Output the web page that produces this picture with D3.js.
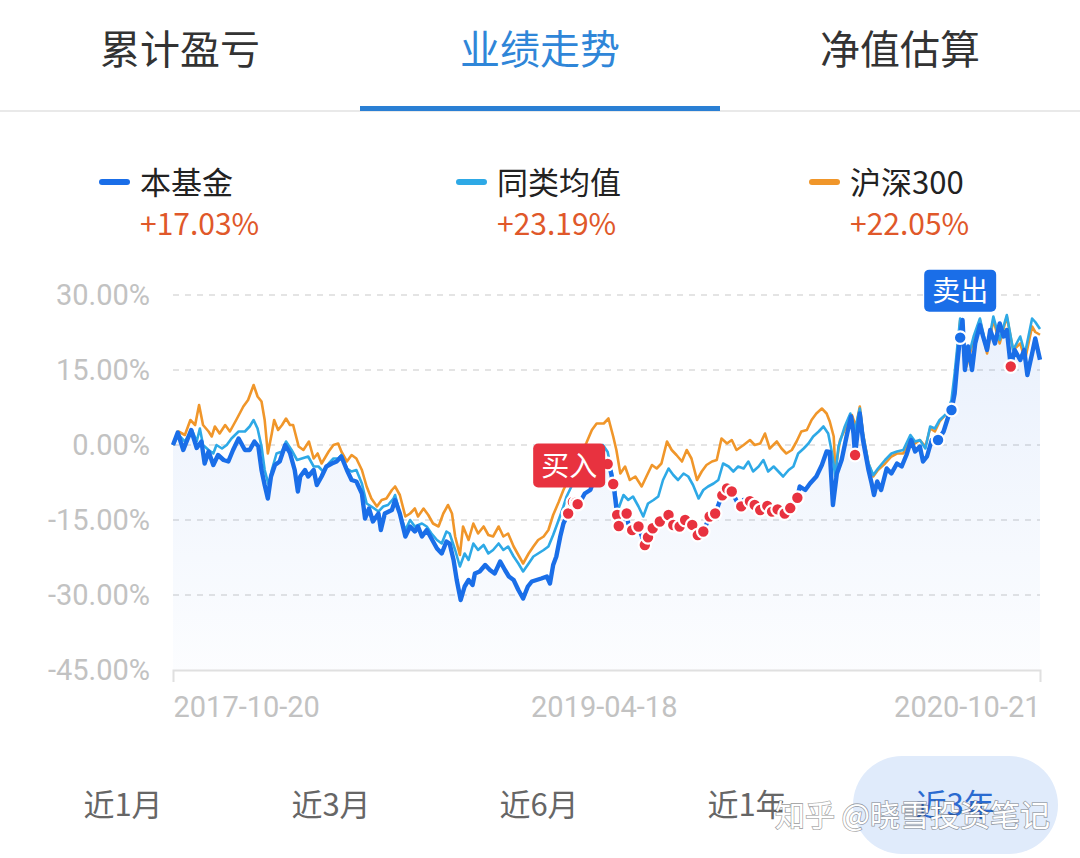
<!DOCTYPE html>
<html>
<head>
<meta charset="utf-8">
<script src="https://cdn.jsdelivr.net/npm/d3@7"></script>
<style>
  html, body { margin: 0; padding: 0; background: #fff; }
  svg { display: block; font-family: "Noto Sans CJK SC", "Noto Sans", sans-serif; }
</style>
</head>
<body>
<div id="chart"></div>
<script>
// tabs / legend / range buttons
const tabs = ["累计盈亏", "业绩走势", "净值估算"];
const seriesNames = ["本基金", "同类均值", "沪深300"];
const seriesReturns = ["+17.03%", "+23.19%", "+22.05%"];
const rangeButtons = ["近1月", "近3月", "近6月", "近1年", "近3年"];

// x = days since 2017-10-20, y = cumulative return %
const dateTicks = [0, 545, 1097];
const dateLabels = ["2017-10-20", "2019-04-18", "2020-10-21"];
const yTicks = [30, 15, 0, -15, -30, -45];

const fundData = [[0,0],[6,2.5],[13,-1.0],[23,3.0],[30,-0.6],[36,0.7],[40,-3.7],[45,-1.3],[51,-4.0],[57,-2.0],[64,-3.0],[70,-3.3],[76,-1.0],[83,1.3],[91,-1.0],[97,-1.0],[103,0.7],[108,-0.3],[112,-5.0],[116,-8.0],[120,-10.7],[124,-6.3],[129,-4.0],[135,-3.3],[142,0.0],[148,-1.6],[154,-5.0],[158,-9.3],[161,-6.3],[167,-5.0],[171,-6.3],[178,-5.0],[182,-8.0],[188,-6.3],[194,-4.3],[201,-3.7],[207,-3.3],[213,-2.3],[220,-5.0],[226,-7.0],[232,-7.3],[239,-9.7],[243,-14.7],[248,-12.7],[253,-15.3],[260,-13.7],[263,-17.0],[268,-13.7],[277,-13.0],[281,-11.0],[287,-13.7],[294,-18.3],[300,-16.3],[306,-17.3],[310,-16.3],[315,-18.3],[321,-17.0],[327,-18.7],[334,-20.7],[340,-21.7],[346,-19.3],[350,-19.7],[355,-23.0],[359,-27.0],[364,-31.0],[369,-28.3],[374,-27.0],[379,-28.0],[382,-25.7],[388,-25.3],[395,-24.0],[401,-25.0],[407,-25.7],[414,-23.3],[420,-25.0],[425,-26.3],[431,-27.0],[437,-29.0],[443,-30.7],[449,-28.3],[454,-27.3],[460,-27.0],[466,-26.7],[473,-26.3],[477,-27.7],[481,-24.0],[485,-22.3],[490,-18.3],[494,-15.7],[500,-13.7],[507,-11.0],[513,-12.0],[521,-9.7],[528,-9.0],[535,-6.0],[543,-4.0],[549,-3.4],[554,-5.4],[558,-8.6],[562,-14.0],[564,-16.2],[574,-13.7],[576,-15.7],[582,-17.3],[589,-16.3],[597,-20.0],[604,-17.3],[610,-16.0],[616,-15.3],[627,-14.0],[633,-16.0],[641,-16.3],[648,-15.0],[656,-15.7],[665,-18.3],[671,-17.3],[679,-14.3],[686,-13.7],[694,-10.3],[701,-8.7],[707,-9.3],[718,-12.7],[722,-11.0],[728,-11.0],[736,-12.0],[745,-13.3],[751,-12.0],[760,-13.7],[766,-12.7],[774,-13.7],[783,-12.3],[789,-11.3],[793,-8.3],[800,-9.0],[806,-7.7],[814,-6.3],[821,-4.0],[827,-1.3],[831,-1.4],[835,-12.0],[840,-5.7],[846,-3.0],[853,2.3],[858,5.7],[861,2.3],[863,-2.0],[867,3.7],[869,6.3],[873,1.0],[880,-5.0],[884,-7.7],[887,-10.0],[891,-7.3],[896,-9.0],[903,-4.7],[909,-5.7],[916,-3.7],[922,-4.3],[928,-2.0],[934,1.0],[939,-1.3],[945,-0.3],[949,-3.3],[954,-2.3],[960,1.0],[968,1.0],[975,2.7],[981,5.7],[985,7.0],[989,10.3],[992,15.7],[995,20.3],[999,25.0],[1002,15.0],[1006,19.7],[1011,15.0],[1015,20.3],[1021,24.0],[1025,21.7],[1030,19.0],[1034,23.0],[1040,20.3],[1046,24.3],[1051,21.7],[1055,23.0],[1060,15.7],[1065,19.0],[1072,17.0],[1077,19.0],[1081,14.0],[1087,18.3],[1091,21.3],[1097,17.03]];

const peerData = [[0,0],[7,2.0],[15,0.7],[24,3.0],[30,0.7],[34,3.3],[38,0.0],[45,-1.0],[51,-1.7],[55,0.0],[62,-0.7],[68,0.0],[74,1.3],[83,2.7],[91,2.7],[97,3.7],[102,5.0],[107,3.3],[112,-0.3],[116,-5.0],[121,-8.0],[125,-5.0],[131,-1.7],[138,-1.3],[143,0.7],[150,-1.0],[157,-3.0],[163,-2.7],[171,-2.3],[178,-4.3],[184,-4.3],[190,-5.3],[197,-3.7],[203,-2.7],[209,-2.7],[213,-2.0],[220,-4.7],[226,-5.3],[232,-5.0],[239,-7.7],[245,-11.7],[251,-12.3],[260,-13.3],[266,-12.3],[272,-12.0],[279,-10.7],[281,-10.0],[287,-13.6],[294,-17.0],[300,-15.0],[306,-16.3],[315,-15.7],[321,-16.3],[327,-17.7],[334,-19.0],[340,-19.7],[346,-17.3],[350,-17.7],[357,-21.0],[363,-24.3],[369,-21.7],[374,-23.0],[380,-19.7],[386,-21.0],[393,-20.0],[399,-21.7],[405,-21.0],[412,-19.7],[418,-21.0],[424,-20.3],[431,-22.3],[437,-23.7],[443,-25.3],[450,-23.7],[456,-22.3],[462,-21.7],[469,-21.0],[475,-20.3],[481,-18.0],[488,-15.0],[494,-12.3],[498,-10.3],[505,-8.0],[515,-5.0],[525,-2.0],[535,-0.4],[544,0.0],[550,-1.4],[555,-5.3],[559,-9.0],[563,-13.0],[570,-10.0],[576,-11.0],[582,-10.3],[589,-12.3],[595,-14.3],[601,-11.7],[608,-11.0],[614,-10.3],[620,-7.0],[627,-4.7],[633,-6.0],[639,-7.0],[646,-5.7],[652,-6.3],[658,-8.0],[665,-10.7],[671,-9.0],[677,-8.3],[684,-7.7],[690,-7.0],[696,-3.7],[703,-4.3],[709,-5.3],[715,-4.3],[722,-4.7],[728,-3.3],[734,-5.3],[741,-4.3],[747,-3.0],[753,-5.3],[760,-4.3],[766,-5.3],[772,-6.3],[779,-5.0],[785,-4.3],[791,-1.7],[798,-0.7],[804,0.3],[810,1.7],[817,2.7],[823,3.7],[829,2.3],[834,-1.7],[838,-6.3],[842,-0.3],[850,3.7],[857,6.3],[863,3.0],[869,7.3],[873,2.3],[880,-3.7],[886,-6.0],[892,-4.7],[901,-3.0],[909,-1.7],[916,-1.3],[924,-1.0],[933,2.0],[939,0.7],[945,1.0],[952,-0.7],[958,3.7],[964,3.3],[970,5.0],[979,6.3],[985,9.0],[989,14.3],[996,25.3],[1004,16.3],[1013,21.7],[1021,25.3],[1030,19.0],[1038,25.7],[1046,21.0],[1055,26.0],[1063,19.0],[1072,21.7],[1078,18.3],[1087,25.3],[1091,24.6],[1097,23.19]];

const hs300Data = [[0,0],[7,2.7],[15,2.0],[22,5.0],[28,4.0],[33,8.0],[38,4.0],[45,2.7],[49,1.7],[53,3.7],[59,2.3],[66,4.0],[72,2.7],[81,5.3],[89,7.7],[95,9.0],[102,12.0],[107,9.7],[112,8.7],[116,5.0],[120,-1.7],[125,2.3],[128,5.0],[133,3.0],[138,4.0],[143,5.3],[148,4.0],[152,4.0],[159,-0.3],[165,-1.0],[172,0.7],[178,-2.7],[183,-1.7],[188,-3.7],[197,-1.3],[203,0.0],[209,0.3],[213,-1.3],[220,-3.3],[226,-2.0],[232,-2.7],[239,-5.0],[245,-8.3],[251,-10.7],[258,-12.3],[264,-11.0],[270,-10.7],[277,-9.0],[281,-8.3],[287,-10.0],[294,-14.3],[300,-13.7],[306,-12.7],[310,-14.3],[317,-12.7],[323,-14.0],[329,-15.7],[336,-16.3],[342,-13.7],[348,-12.0],[353,-13.7],[357,-18.3],[363,-22.0],[367,-16.3],[374,-19.0],[380,-15.7],[386,-17.7],[393,-16.3],[399,-18.0],[405,-18.3],[412,-16.3],[418,-18.3],[424,-17.7],[431,-20.3],[437,-22.0],[443,-23.7],[450,-21.7],[456,-20.3],[462,-19.0],[469,-18.3],[475,-17.0],[481,-14.0],[488,-11.4],[494,-9.0],[498,-7.7],[505,-5.0],[515,-2.0],[523,0.4],[530,3.0],[536,4.3],[545,4.3],[551,5.3],[557,1.7],[561,-1.0],[566,-5.7],[572,-4.3],[578,-7.0],[585,-6.3],[593,-8.3],[599,-6.3],[606,-4.0],[612,-4.7],[618,-3.7],[625,0.7],[631,-1.0],[637,-2.0],[644,-3.3],[650,-1.0],[656,-2.7],[663,-7.0],[669,-5.3],[675,-4.0],[682,-3.3],[688,-3.0],[694,1.3],[701,0.3],[707,1.0],[713,-1.0],[722,0.0],[730,1.0],[736,0.0],[743,0.3],[749,2.3],[755,-0.7],[764,0.7],[770,-0.7],[776,-1.7],[783,-1.0],[789,0.7],[795,2.7],[802,3.0],[808,5.0],[814,6.3],[821,7.3],[827,6.3],[831,4.7],[836,1.7],[838,-5.0],[844,1.0],[852,3.7],[859,6.0],[864,3.7],[869,7.7],[873,2.3],[880,-3.7],[886,-6.3],[892,-5.0],[901,-3.7],[909,-2.3],[916,-1.7],[924,-1.7],[933,1.7],[939,0.3],[945,1.0],[952,-0.3],[958,3.3],[964,2.7],[970,4.7],[979,6.3],[985,7.7],[989,13.0],[996,25.0],[1004,15.7],[1013,21.0],[1021,25.0],[1030,18.3],[1038,25.0],[1046,20.3],[1055,25.7],[1063,19.0],[1072,20.3],[1078,17.0],[1087,23.7],[1091,22.6],[1097,22.05]];

// trade markers (days)
const buyDays = [500,506,510,512,550,557,562,564,574,581,589,597,601,607,616,627,633,641,648,657,664,671,679,686,695,701,707,719,730,736,743,752,758,765,774,781,790,863,1060];
const sellDays = [968,985,996];

const colors = { fund: "#1a6ee8", peer: "#2ea9e6", hs300: "#f0962a" };

const W = 1080, H = 858;
const svg = d3.select("#chart").append("svg")
  .attr("width", W).attr("height", H);

// ---- tabs
svg.append("line")
  .attr("x1", 0).attr("x2", W).attr("y1", 111).attr("y2", 111)
  .attr("stroke", "#e2e2e2").attr("stroke-width", 1.5);

const tabX = d3.scalePoint().domain(tabs).range([180, 900]);
svg.append("g").selectAll("text")
  .data(tabs)
  .join("text")
  .attr("x", d => tabX(d))
  .attr("y", 64)
  .attr("text-anchor", "middle")
  .attr("font-size", 40)
  .attr("fill", (d, i) => i === 1 ? "#2f86d8" : "#333")
  .text(d => d);

svg.append("rect")
  .attr("x", 360).attr("y", 106).attr("width", 360).attr("height", 5)
  .attr("fill", "#2a7fd4");

// ---- legend
const legendX = [100, 457, 810];
const legendColors = [colors.fund, colors.peer, colors.hs300];
const lg = svg.append("g").selectAll("g")
  .data(seriesNames)
  .join("g")
  .attr("transform", (d, i) => `translate(${legendX[i]},0)`);
lg.append("line")
  .attr("x1", 2).attr("x2", 27).attr("y1", 182).attr("y2", 182)
  .attr("stroke", (d, i) => legendColors[i])
  .attr("stroke-width", 6).attr("stroke-linecap", "round");
lg.append("text")
  .attr("x", 40).attr("y", 194)
  .attr("font-size", 31).attr("fill", "#222")
  .text(d => d);
lg.append("text")
  .attr("x", 40).attr("y", 235)
  .attr("font-size", 30).attr("fill", "#e0582a")
  .text((d, i) => seriesReturns[i]);

// ---- chart
const x = d3.scaleLinear().domain([0, 1097]).range([173, 1040]);
const y = d3.scaleLinear().domain([-45, 30]).range([670, 295]);

const defs = svg.append("defs");
const grad = defs.append("linearGradient")
  .attr("id", "areaGrad").attr("x1", 0).attr("x2", 0).attr("y1", 0).attr("y2", 1);
grad.append("stop").attr("offset", "0%").attr("stop-color", "#2a72e6").attr("stop-opacity", 0.10);
grad.append("stop").attr("offset", "100%").attr("stop-color", "#2a72e6").attr("stop-opacity", 0.015);

// grid lines
svg.append("g")
  .selectAll("line")
  .data(yTicks.filter(d => d !== -45))
  .join("line")
  .attr("x1", x(0)).attr("x2", x(1097))
  .attr("y1", d => y(d)).attr("y2", d => y(d))
  .attr("stroke", "#dcdcdc").attr("stroke-width", 1.5)
  .attr("stroke-dasharray", "6,6");

// y labels
svg.append("g")
  .attr("transform", `translate(${x(0)},0)`)
  .call(d3.axisLeft(y).tickValues(yTicks).tickSize(0).tickPadding(23)
    .tickFormat(d => d.toFixed(2) + "%"))
  .call(g => g.select(".domain").remove())
  .call(g => g.selectAll("text")
    .attr("font-size", 29).attr("fill", "#c2c2c2")
    .attr("font-family", "Roboto, 'Noto Sans', sans-serif"));

// area under fund
svg.append("path")
  .datum(fundData)
  .attr("fill", "url(#areaGrad)")
  .attr("d", d3.area().x(d => x(d[0])).y0(y(-45)).y1(d => y(d[1])));

// x axis
svg.append("g")
  .attr("transform", `translate(0,${y(-45)})`)
  .call(d3.axisBottom(x).tickValues(dateTicks).tickSize(0).tickSizeOuter(12).tickPadding(26)
    .tickFormat((d, i) => dateLabels[i]))
  .call(g => g.select(".domain").attr("stroke", "#e0e0e0").attr("stroke-width", 2))
  .call(g => g.selectAll("text")
    .attr("font-size", 29).attr("fill", "#c2c2c2")
    .attr("font-family", "Roboto, 'Noto Sans', sans-serif")
    .attr("text-anchor", (d, i) => i === 0 ? "start" : i === dateTicks.length - 1 ? "end" : "middle"));

const line = d3.line().x(d => x(d[0])).y(d => y(d[1]));
svg.append("path").datum(hs300Data)
  .attr("fill", "none").attr("stroke", colors.hs300).attr("stroke-width", 2.6)
  .attr("stroke-linejoin", "round").attr("d", line);
svg.append("path").datum(peerData)
  .attr("fill", "none").attr("stroke", colors.peer).attr("stroke-width", 2.6)
  .attr("stroke-linejoin", "round").attr("d", line);
svg.append("path").datum(fundData)
  .attr("fill", "none").attr("stroke", colors.fund).attr("stroke-width", 4.4)
  .attr("stroke-linejoin", "round").attr("d", line);

// markers sit on the fund line
const fundAt = day => {
  const i = d3.bisector(d => d[0]).left(fundData, day);
  if (i <= 0) return fundData[0][1];
  if (i >= fundData.length) return fundData[fundData.length - 1][1];
  const a = fundData[i - 1], b = fundData[i];
  return a[1] + (b[1] - a[1]) * (day - a[0]) / (b[0] - a[0]);
};

svg.append("g").selectAll("circle")
  .data(buyDays)
  .join("circle")
  .attr("cx", d => x(d)).attr("cy", d => y(fundAt(d)))
  .attr("r", 6.3).attr("fill", "#e8323f")
  .attr("stroke", "#fff").attr("stroke-width", 2.2);

svg.append("g").selectAll("circle")
  .data(sellDays)
  .join("circle")
  .attr("cx", d => x(d)).attr("cy", d => y(fundAt(d)))
  .attr("r", 6.3).attr("fill", "#1a6ee8")
  .attr("stroke", "#fff").attr("stroke-width", 2.2);

// callouts
const buyX = x(buyDays[0]), buyY = y(fundAt(buyDays[0]));
const bg = svg.append("g").attr("transform", `translate(${buyX - 35},${buyY - 70})`);
bg.append("rect").attr("width", 72).attr("height", 44).attr("rx", 5).attr("fill", "#e8323f");
bg.append("text").attr("x", 36).attr("y", 32).attr("text-anchor", "middle")
  .attr("font-size", 28).attr("fill", "#fff").text("买入");

const sellDay = sellDays[sellDays.length - 1];
const sx = x(sellDay), sy = y(fundAt(sellDay));
const sg = svg.append("g").attr("transform", `translate(${sx - 36},${sy - 68})`);
sg.append("rect").attr("width", 72).attr("height", 42).attr("rx", 5).attr("fill", "#1a6ee8");
sg.append("text").attr("x", 36).attr("y", 31).attr("text-anchor", "middle")
  .attr("font-size", 28).attr("fill", "#fff").text("卖出");

// ---- range buttons
const btnX = d3.scalePoint().domain(rangeButtons).range([123, 955]);
svg.append("rect")
  .attr("x", 853).attr("y", 756).attr("width", 205).attr("height", 98).attr("rx", 49)
  .attr("fill", "#e0ebfb");
svg.append("g").selectAll("text")
  .data(rangeButtons)
  .join("text")
  .attr("x", d => btnX(d)).attr("y", 816)
  .attr("text-anchor", "middle")
  .attr("font-size", 31)
  .attr("fill", (d, i) => i === rangeButtons.length - 1 ? "#2a6ad0" : "#666")
  .text(d => d);

// watermark (overlaps the buttons, as in the screenshot)
svg.append("text")
  .attr("x", 1050).attr("y", 826).attr("text-anchor", "end")
  .attr("font-size", 30).attr("fill", "#fff")
  .attr("stroke", "rgba(60,60,60,0.45)").attr("stroke-width", 1.6)
  .attr("paint-order", "stroke")
  .text("知乎 @晓雪投资笔记");
</script>
</body>
</html>
